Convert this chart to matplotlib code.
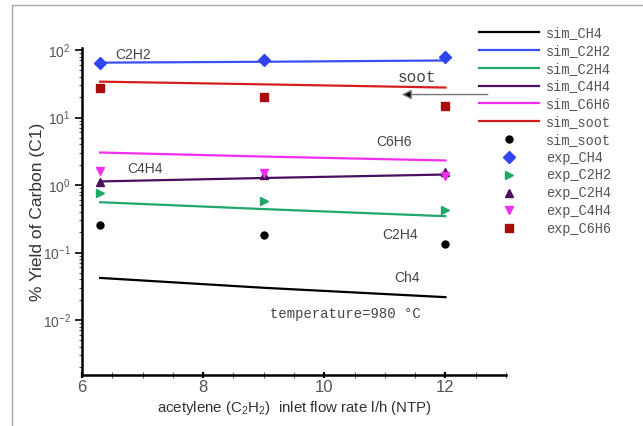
import matplotlib
matplotlib.use("Agg")
import matplotlib.pyplot as plt
from matplotlib.lines import Line2D
from matplotlib.ticker import MultipleLocator, LogLocator, NullFormatter

# ---------------- data ----------------
x = [6.3, 9.0, 12.0]

sim_CH4 = [0.042, 0.030, 0.0218]
sim_C2H2 = [65, 67, 70]
sim_C2H4 = [0.556, 0.44, 0.345]
sim_C4H4 = [1.13, 1.27, 1.43]
sim_C6H6 = [3.03, 2.64, 2.31]
sim_soot_line = [34, 31, 27.8]

sim_soot_pts = [0.253, 0.18, 0.135]
exp_CH4 = [65, 72, 78]
exp_C2H2 = [0.766, 0.575, 0.424]
exp_C2H4 = [1.12, 1.43, 1.55]
exp_C4H4 = [1.64, 1.51, 1.35]
exp_C6H6 = [27.8, 20.4, 14.7]

x_ticks = [6, 8, 10, 12]
y_ticks = [1e-2, 1e-1, 1e0, 1e1, 1e2]

plt.rcParams["font.family"] = ["Liberation Sans", "DejaVu Sans"]
plt.rcParams["mathtext.fontset"] = "custom"
plt.rcParams["mathtext.rm"] = "Liberation Sans"
plt.rcParams["mathtext.it"] = "Liberation Sans:italic"
plt.rcParams["mathtext.bf"] = "Liberation Sans:bold"

MONO = ["Liberation Mono", "DejaVu Sans Mono"]

# ---------------- figure ----------------
fig = plt.figure(figsize=(6.43, 4.26), dpi=100)
ax = fig.add_axes([82/643, 1-375/426, (506-82)/643, (375-48)/426])

lw = 1.6
h_sim = [
    ax.plot(x, sim_CH4, color="black", lw=lw, label="sim_CH4")[0],
    ax.plot(x, sim_C2H2, color="#3b4ef2", lw=lw, label="sim_C2H2")[0],
    ax.plot(x, sim_C2H4, color="#1fa86a", lw=lw, label="sim_C2H4")[0],
    ax.plot(x, sim_C4H4, color="#4a0f5e", lw=lw, label="sim_C4H4")[0],
    ax.plot(x, sim_C6H6, color="#f22ef2", lw=lw, label="sim_C6H6")[0],
    ax.plot(x, sim_soot_line, color="#d41e1e", lw=lw, label="sim_soot")[0],
]
h_exp = [
    ax.plot(x, sim_soot_pts, ls="none", marker="o", ms=5, color="black", label="sim_soot")[0],
    ax.plot(x, exp_CH4, ls="none", marker="D", ms=6, color="#2f45f0", label="exp_CH4")[0],
    ax.plot(x, exp_C2H2, ls="none", marker=">", ms=6, color="#1fa86a", label="exp_C2H2")[0],
    ax.plot(x, exp_C2H4, ls="none", marker="^", ms=6, color="#4a0f5e", label="exp_C2H4")[0],
    ax.plot(x, exp_C4H4, ls="none", marker="v", ms=6, color="#f22ef2", label="exp_C4H4")[0],
    ax.plot(x, exp_C6H6, ls="none", marker="s", ms=6, color="#a80d0d", label="exp_C6H6")[0],
]

ax.set_yscale("log")
ax.set_xlim(6, 13)
ax.set_ylim(10**-2.815, 10**2.03)

ax.set_xticks(x_ticks)
ax.xaxis.set_minor_locator(MultipleLocator(0.5))
ax.set_yticks(y_ticks)
ax.yaxis.set_minor_locator(LogLocator(base=10, subs=range(2, 10)))
ax.yaxis.set_minor_formatter(NullFormatter())

for s in ["top", "right"]:
    ax.spines[s].set_visible(False)
for s in ["left", "bottom"]:
    ax.spines[s].set_linewidth(1.8)
    ax.spines[s].set_color("black")

tick_col = "#555555"
ax.tick_params(axis="x", which="major", direction="inout", length=5, width=1.6,
               labelsize=12, labelcolor=tick_col, pad=1)
ax.tick_params(axis="x", which="minor", direction="inout", length=4, width=0.8,
               color="#666666")
ax.tick_params(axis="y", which="major", direction="out", length=5, width=1.2,
               labelsize=10, labelcolor=tick_col, pad=3)
ax.tick_params(axis="y", which="minor", direction="out", length=2.5, width=0.8,
               color="#555555")

ax.set_xlabel("acetylene (C$_2$H$_2$)  inlet flow rate l/h (NTP)", fontsize=10.8,
              color="#333333", labelpad=3)
ax.set_ylabel("% Yield of Carbon (C1)", fontsize=12.5, color="#333333", labelpad=-1.5)

# annotations
lab_col = "#444444"
ax.text(6.55, 85, "C2H2", fontsize=10, color=lab_col, va="center", ha="left")
ax.text(11.22, 39, "soot", fontsize=11.5, color=lab_col, va="center", ha="left",
        family=MONO)
ax.text(10.85, 4.3, "C6H6", fontsize=10, color=lab_col, va="center", ha="left")
ax.text(6.75, 1.7, "C4H4", fontsize=10, color=lab_col, va="center", ha="left")
ax.text(10.95, 0.18, "C2H4", fontsize=10, color=lab_col, va="center", ha="left")
ax.text(11.15, 0.042, "Ch4", fontsize=10, color=lab_col, va="center", ha="left")
ax.text(9.1, 0.0123, "temperature=980 \u00b0C", fontsize=10, color=lab_col,
        va="center", ha="left", family=MONO)

ax.annotate("", xy=(11.28, 21.9), xytext=(12.7, 21.9),
            arrowprops=dict(arrowstyle="-|>", color="#777777", lw=1.0,
                            mutation_scale=14, shrinkA=0, shrinkB=0,
                            fc="black", ec="#777777"),
            annotation_clip=False)

leg = fig.legend(handles=h_sim + h_exp, loc="upper left",
                 bbox_to_anchor=(479/643, 1-26/426), bbox_transform=fig.transFigure,
                 frameon=False, handlelength=4.4, handletextpad=0.5,
                 labelspacing=0.28, borderpad=0, borderaxespad=0, numpoints=1,
                 prop={"family": MONO, "size": 9.8})
for t in leg.get_texts():
    t.set_color("#555555")

# figure grey frame
fig.add_artist(Line2D([12/643, 12/643, 1.0], [0.0, 1-5/426, 1-5/426],
                      transform=fig.transFigure, color="#aaaaaa", lw=1))

fig.savefig("out.png", dpi=100)
